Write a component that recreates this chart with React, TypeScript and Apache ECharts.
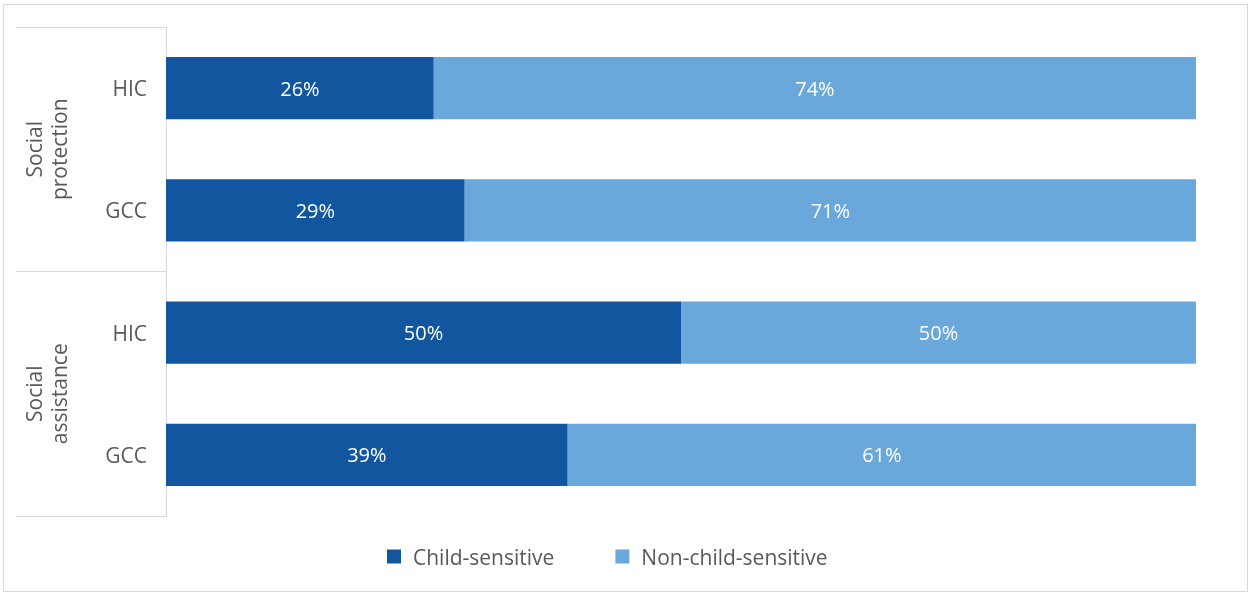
import React, { useEffect, useRef } from "react";
import * as echarts from "echarts";

const categories = ["HIC", "GCC", "HIC", "GCC"];
const groups = ["Social\nprotection", "Social\nassistance"];
const childSensitive = [26, 29, 50, 39];
const nonChildSensitive = [74, 71, 50, 61];
const seriesNames = ["Child-sensitive", "Non-child-sensitive"];

const FONT = "'Open Sans', 'Noto Sans', sans-serif";

export default function App() {
  const ref = useRef<HTMLDivElement>(null);
  useEffect(() => {
    if (!ref.current) return;
    const chart = echarts.init(ref.current, undefined, { renderer: "svg" });
    const labelStyle = {
      show: true,
      position: "inside",
      color: "#ffffff",
      fontSize: 20,
      fontFamily: FONT,
      formatter: (p: any) => `${p.value}%`,
    };
    chart.setOption({
      animation: false,
      textStyle: { fontFamily: FONT },
      grid: { left: 166, right: 54, top: 27, bottom: 78, containLabel: false },
      xAxis: {
        type: "value",
        min: 0,
        max: 100,
        show: false,
      },
      yAxis: [
        {
          type: "category",
          data: categories,
          inverse: true,
          position: "left",
          axisLine: { show: true, lineStyle: { color: "#d9d9d9", width: 1 } },
          axisTick: { show: false },
          axisLabel: { color: "#595959", fontSize: 21, fontFamily: FONT, margin: 19 },
          splitLine: { show: false },
        },
        {
          type: "category",
          data: groups,
          inverse: true,
          position: "left",
          axisLine: { show: true, lineStyle: { color: "#d9d9d9", width: 1 } },
          axisTick: { show: true, length: 150, lineStyle: { color: "#d9d9d9", width: 1 } },
          axisLabel: {
            color: "#595959",
            fontSize: 21,
            fontFamily: FONT,
            rotate: 90,
            margin: 95,
            lineHeight: 25,
          },
          splitLine: { show: false },
        },
      ],
      legend: {
        left: 382,
        top: 541,
        itemWidth: 14,
        itemHeight: 14,
        itemGap: 61,
        icon: "rect",
        textStyle: { color: "#595959", fontSize: 21, fontFamily: FONT, padding: [0, 0, 0, 7] },
        data: seriesNames,
      },
      graphic: [
        {
          type: "rect",
          shape: { x: 3.5, y: 4.5, width: 1244, height: 587 },
          style: { fill: "none", stroke: "#d9d9d9", lineWidth: 1 },
          silent: true,
        },
      ],
      series: [
        {
          name: seriesNames[0],
          type: "bar",
          stack: "total",
          yAxisIndex: 0,
          data: childSensitive,
          barCategoryGap: "49%",
          itemStyle: { color: "#11569f" },
          label: labelStyle,
        },
        {
          name: seriesNames[1],
          type: "bar",
          stack: "total",
          yAxisIndex: 0,
          data: nonChildSensitive,
          barCategoryGap: "49%",
          itemStyle: { color: "#6aa7da" },
          label: labelStyle,
        },
      ],
    });
    return () => chart.dispose();
  }, []);
  return (
    <div
      ref={ref}
      style={{ position: "fixed", left: 0, top: 0, width: 1250, height: 594 }}
    />
  );
}
